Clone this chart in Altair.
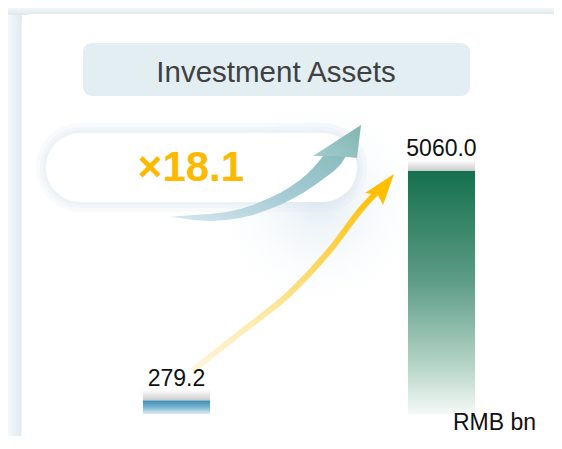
import altair as alt
import pandas as pd

# ---------------- data ----------------
categories = ["Earlier", "Latest"]
values = [279.2, 5060.0]
value_labels = ["279.2", "5060.0"]
title_text = "Investment Assets"
multiple_text = "×18.1"
unit_text = "RMB bn"

# decorative arrow outlines (page pixel coordinates)
blue_shaft_x = [169, 193, 210, 227, 240, 253, 267, 280, 290, 300, 307, 313, 320, 326,
                346, 341, 334, 326, 315, 303, 292, 280, 267, 253, 240, 227, 210, 193, 180]
blue_shaft_y = [217, 215, 214, 212, 209, 205, 199, 193, 187, 180, 174, 168, 160, 152,
                156, 164, 171, 177, 185, 193, 199, 205, 210, 215, 218, 220, 221, 220, 218]
blue_head_x = [313, 361, 357, 338]
blue_head_y = [156, 125, 158, 156]
yellow_x = [192, 240, 290, 330, 363, 381]
yellow_y = [371, 333, 293, 250, 207, 188]
yellow_head_x = [365, 394, 383, 378]
yellow_head_y = [193, 174, 205, 195]

FONT = "Liberation Sans"
W, H = 546, 428
OFF = 8  # page margin


def grad(stops, x1=0, y1=0, x2=0, y2=1):
    return alt.LinearGradient(
        gradient="linear",
        stops=[alt.GradientStop(color=c, offset=o) for o, c in stops],
        x1=x1, y1=y1, x2=x2, y2=y2,
    )


def one():
    return alt.Chart(alt.Data(values=[{}]))


def rect(x1, y1, x2, y2, **kw):
    return one().mark_rect(**kw).encode(
        x=alt.value(x1), x2=alt.value(x2), y=alt.value(y1), y2=alt.value(y2)
    )


def text(x, y, s, **kw):
    return one().mark_text(text=s, font=FONT, **kw).encode(x=alt.value(x), y=alt.value(y))


def poly(xs, ys, **kw):
    vals = [{"px": a - OFF, "py": b - OFF, "o": i} for i, (a, b) in enumerate(zip(xs, ys))]
    return alt.Chart(alt.Data(values=vals)).mark_line(**kw).encode(
        x=alt.X("px:Q", scale=None, axis=None),
        y=alt.Y("py:Q", scale=None, axis=None),
        order="o:Q",
    )


# ---------------- background ----------------
left_strip = rect(0, 0, 14, H, color=grad([(0, "#f4f8fa"), (1, "#e0eaef")], 0, 0, 1, 0))
top_strip = rect(0, 0, W, 7, color=grad([(0, "#f2f6f9"), (1, "#dfe9ee")]))
card = rect(13.5, 6, W + 30, H + 30, color="#ffffff", cornerRadius=10)
haze = rect(185, 88, 415, 300, color=alt.RadialGradient(
    gradient="radial", x1=0.55, y1=0.5, x2=0.55, y2=0.5, r1=0, r2=0.5,
    stops=[alt.GradientStop(color="#e3edf3", offset=0),
           alt.GradientStop(color="rgba(255,255,255,0)", offset=1)]))

title_box = rect(75, 35, 462, 88, color="#e3eef3", cornerRadius=9)
title = text(268, 74, title_text, fontSize=29.5, color="#404040", align="center", baseline="alphabetic")

glows = [
    rect(38 - e, 125 - e, 349 + e, 194 + e, color="#d8e6ed", opacity=0.18, cornerRadius=34.5 + e)
    for e in (10, 6, 3)
]
pill = rect(38, 125, 349, 194, color="#ffffff", cornerRadius=34.5)
multiple = text(183, 173, multiple_text, fontSize=42, fontWeight="bold", color="#fcb900",
                align="center", baseline="alphabetic")

blue_shaft = poly(blue_shaft_x, blue_shaft_y, filled=True, interpolate="linear-closed",
                  color=grad([(0, "#d6e8ee"), (0.5, "#a6cbd6"), (1, "#88bcbb")], 0, 1, 1, 0))
blue_head = poly(blue_head_x, blue_head_y, filled=True, interpolate="linear-closed",
                 color=grad([(0, "#80b6ad"), (1, "#a3cbd1")], 1, 0, 0, 1))

yellow_line = poly(yellow_x, yellow_y, interpolate="monotone", strokeWidth=6, strokeCap="butt",
                   color=grad([(0, "#fff6dc"), (0.35, "#fde9a6"), (0.7, "#fcd14d"), (1, "#ffbf00")], 0, 1, 1, 0))
yellow_head = poly(yellow_head_x, yellow_head_y, filled=True, interpolate="linear-closed", color="#ffbf00")

# ---------------- bars ----------------
bars_df = pd.DataFrame({"category": categories, "value": values, "label": value_labels})
x_scale = alt.Scale(type="band", domain=categories, range=[135, 467], paddingInner=0.747, paddingOuter=0)
y_scale = alt.Scale(domain=[0, max(values)], range=[406, 163], nice=False, zero=True)

base = alt.Chart(bars_df).encode(
    x=alt.X("category:N", scale=x_scale, axis=None),
    y=alt.Y("value:Q", scale=y_scale, axis=None),
)
bar_shadow = base.mark_bar(
    yOffset=-11, y2Offset=0,
    color=grad([(0, "rgba(200,200,200,0)"), (1, "rgba(195,195,195,0.9)")]),
).encode(y2=alt.Y2("value:Q"))
bar_small = base.transform_filter(alt.datum.category == categories[0]).mark_bar(
    color=grad([(0, "#3a8cb5"), (0.5, "#7db5cf"), (1, "#dcecf4")]))
bar_big = base.transform_filter(alt.datum.category == categories[1]).mark_bar(
    color=grad([(0, "#15704f"), (0.45, "#5c9c86"), (0.8, "#b5d4c8"), (1, "#f5f9f7")]))
labels = alt.Chart(bars_df).mark_text(
    dy=-15, baseline="alphabetic", align="center", fontSize=23, font=FONT, color="#111111"
).encode(
    x=alt.X("category:N", scale=x_scale, axis=None, bandPosition=0.5),
    y=alt.Y("value:Q", scale=y_scale, axis=None),
    text="label:N",
)

unit = text(528, 422, unit_text, fontSize=23, color="#111111", align="right", baseline="alphabetic")

chart = alt.layer(
    left_strip, top_strip, card, haze, title_box, title,
    *glows, pill, multiple,
    blue_shaft, blue_head, yellow_line, yellow_head,
    bar_shadow, bar_small, bar_big, labels, unit,
).resolve_scale(x="independent", y="independent").properties(
    width=W, height=H, padding=0, autosize=alt.AutoSizeParams(type="none"), background="#ffffff"
).configure_view(stroke=None)

chart.save("out.html", embed_options={"renderer": "svg", "actions": False})
